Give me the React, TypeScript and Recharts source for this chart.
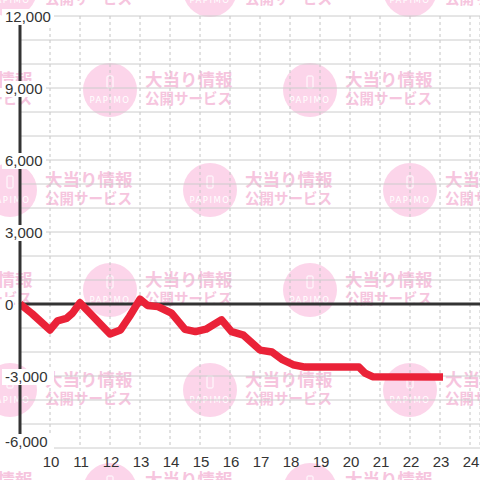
import React from "react";
import { LineChart, Line, XAxis, YAxis, CartesianGrid, ReferenceLine } from "recharts";

const hours = [9.0, 9.4, 10.0, 10.25, 10.55, 10.75, 11.0, 12.0, 12.35, 12.65, 13.0, 13.25, 13.6, 14.05, 14.5, 14.85, 15.2, 15.72, 16.05, 16.45, 17.0, 17.4, 17.75, 18.1, 18.5, 20.3, 20.5, 20.75, 23.1];
const balance = [0, -400, -1080, -700, -600, -380, 50, -1250, -1080, -520, 200, -60, -110, -380, -1060, -1150, -1050, -660, -1150, -1300, -1920, -2000, -2320, -2530, -2630, -2630, -2880, -3030, -3040];
const xTicks = [10, 11, 12, 13, 14, 15, 16, 17, 18, 19, 20, 21, 22, 23, 24];
const yTicks = [-6000, -5000, -4000, -3000, -2000, -1000, 0, 1000, 2000, 3000, 4000, 5000, 6000, 7000, 8000, 9000, 10000, 11000, 12000];
const yLabelValues = [-6000, -3000, 0, 3000, 6000, 9000, 12000];
const wmLine1 = "大当り情報";
const wmLine2 = "公開サービス";
const wmBrand = "PAPIMO";

const data = hours.map((h, i) => ({ h, v: balance[i] }));

const wmCenters: [number, number][] = [];
for (let r = 0; r < 6; r++) {
  const cy = -10 + r * 100;
  const xs = r % 2 === 0 ? [10, 210, 410] : [-90, 110, 310];
  xs.forEach((cx) => wmCenters.push([cx, cy]));
}

const Watermark = () => (
  <svg width={480} height={480} style={{ position: "absolute", left: 0, top: 0 }}>
    {wmCenters.map(([cx, cy], i) => (
      <g key={i}>
        <circle cx={cx} cy={cy} r={27} fill="#fcd5ea" />
        <rect x={cx - 3} y={cy - 14} width={6} height={12} rx={1} fill="none" stroke="#ffffff" strokeWidth={1} />
        <text x={cx} y={cy + 13} textAnchor="middle" fontSize={8.5} fill="#ffffff" letterSpacing={1.5} fontFamily="'DejaVu Sans', sans-serif">
          {wmBrand}
        </text>
        <text x={cx + 35} y={cy - 4} fontSize={17.5} fontWeight={700} fill="#f6c5de" fontFamily="'Noto Sans CJK JP', sans-serif">
          {wmLine1}
        </text>
        <text x={cx + 35} y={cy + 14} fontSize={14.5} fontWeight={700} fill="#f6c5de" fontFamily="'Noto Sans CJK JP', sans-serif">
          {wmLine2}
        </text>
      </g>
    ))}
  </svg>
);

const fmt = (v: number) => v.toLocaleString("en-US");

const YTick = (props: any) => {
  const { y, payload } = props;
  const v = payload.value as number;
  if (!yLabelValues.includes(v)) return <g />;
  const label = fmt(v);
  const cy = v === -6000 ? y - 6 : y + 1;
  const w = label.length * 8.0 + 4;
  return (
    <g>
      <rect x={2} y={cy - 8} width={w} height={16} fill="#ffffff" />
      <text x={5} y={cy + 5} fontSize={15} fill="#333333" fontFamily="'Liberation Sans', Arial, sans-serif">
        {label}
      </text>
    </g>
  );
};

const XTick = (props: any) => {
  const { x, payload } = props;
  return (
    <text x={x + 1} y={466.5} textAnchor="middle" fontSize={15} fill="#333333" fontFamily="'Liberation Sans', Arial, sans-serif">
      {payload.value}
    </text>
  );
};

export default function App() {
  return (
    <div style={{ position: "fixed", left: 0, top: 0, width: 480, height: 480, background: "#ffffff" }}>
      <Watermark />
      <div style={{ position: "absolute", left: 0, top: 0 }}>
        <LineChart width={480} height={480} data={data} margin={{ top: 16, right: 0, bottom: 0, left: 0 }}>
          <CartesianGrid horizontal={false} vertical={true} stroke="#c4c4c4" strokeDasharray="3 3" />
          <CartesianGrid horizontal={true} vertical={false} stroke="#cccccc" />
          <ReferenceLine y={0} stroke="#333333" strokeWidth={3} />
          <Line type="linear" dataKey="v" stroke="#ea2238" strokeWidth={7.5} dot={false} strokeLinejoin="round" isAnimationActive={false} />
          <XAxis
            dataKey="h"
            type="number"
            domain={[9, 24.333]}
            ticks={xTicks}
            allowDataOverflow
            height={32}
            axisLine={false}
            tickLine={false}
            tick={<XTick />}
            interval={0}
          />
          <YAxis
            type="number"
            domain={[-6000, 12000]}
            ticks={yTicks}
            width={20}
            axisLine={{ stroke: "#333333", strokeWidth: 3 }}
            tickLine={false}
            tick={<YTick />}
            interval={0}
            allowDataOverflow
          />
        </LineChart>
      </div>
    </div>
  );
}
